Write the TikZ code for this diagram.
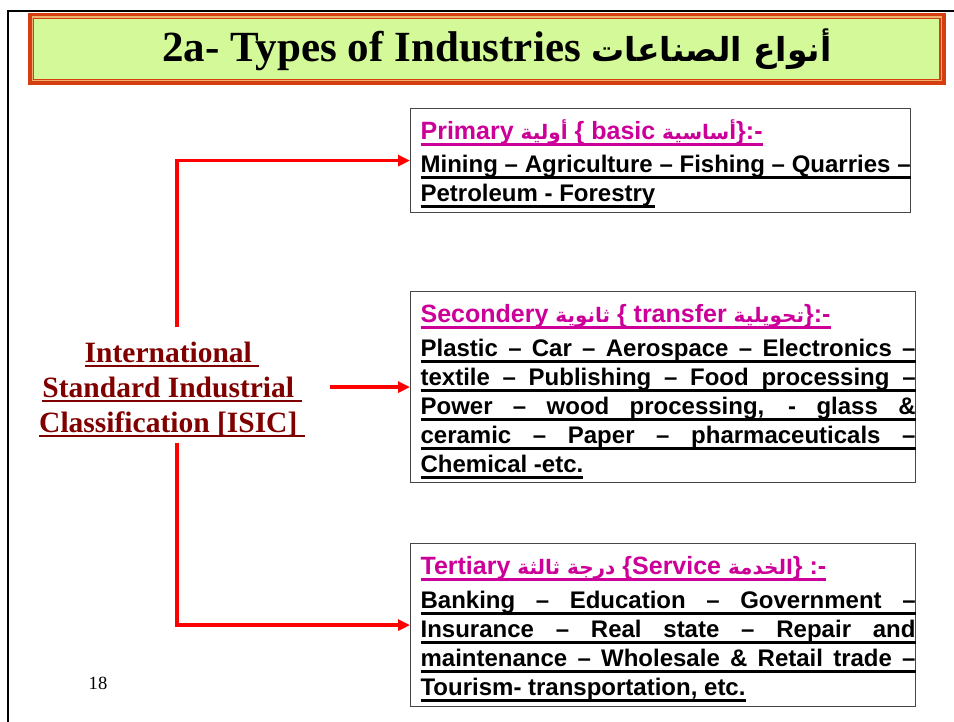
\documentclass[tikz,border=0pt]{standalone}
\usepackage{fontspec}
\setmainfont{Liberation Serif}
\newfontfamily\arial{Liberation Sans}
\newfontfamily\arabicfont[Script=Arabic]{DejaVu Sans}
\usetikzlibrary{arrows.meta}
\TeXXeTstate=1
\definecolor{mag}{RGB}{204,0,153}
\definecolor{isicred}{RGB}{128,0,0}
\definecolor{barred}{RGB}{212,62,16}
\definecolor{bartan}{RGB}{238,178,110}
\definecolor{bargreen}{RGB}{212,249,152}
\definecolor{boxgray}{RGB}{70,70,70}
\newlength\bw
\newcommand\ulx[2]{\setbox0\hbox{#2}\rlap{\color{#1}\vrule width\wd0 height -3.5pt depth 6.5pt}\box0}
\newcommand\ulisic[1]{\setbox0\hbox{#1\ }\rlap{\vrule width\wd0 height -2pt depth 4.5pt}\box0}
\newcommand\hdfont{\arial\bfseries\fontsize{25}{28.9}\selectfont}
\newcommand\bodyfont{\arial\bfseries\fontsize{24}{28.9}\selectfont}
\newcommand\arw[1]{{\arabicfont\fontsize{20}{20}\selectfont\beginR #1\endR}}
\newcommand\hdline[1]{\moveright10pt\hbox{\vrule width0pt height 25pt\relax\ulx{mag}{\color{mag}\hdfont #1}}}
\newcommand\jline[1]{\moveright10pt\hbox{\color{black}\ulx{black}{\hbox to\bw{\bodyfont #1}}}}
\newcommand\nline[1]{\moveright10pt\hbox{\color{black}\ulx{black}{\bodyfont #1}}}
\newcommand\boxsetup[1]{\hsize=#1\relax\baselineskip=28.9pt\lineskiplimit=-50pt\lineskip=0pt\parindent=0pt}
\tikzset{
  ibox/.style={draw=boxgray, line width=1.2pt, inner sep=0pt, anchor=north west},
  conn/.style={draw=red, line width=3.5pt, -{Triangle[length=12pt,width=11pt]}},
  isicnode/.style={align=center, text=isicred, inner xsep=25pt, inner ysep=0pt,
     font=\bfseries\fontsize{29.5}{35}\selectfont}
}
\begin{document}
\begin{tikzpicture}[x=1pt,y=-1pt]
\useasboundingbox (0,0) rectangle (954,722);
\fill[white] (0,0) rectangle (954,722);
% page frame
\draw[line width=2.5pt] (8,722) -- (8,11) -- (954,11);
% title bar
\fill[barred] (27.5,13) rectangle (946,85);
\fill[bartan] (31.5,16.5) rectangle (942,81.5);
\fill[barred] (33,18) rectangle (940.5,80);
\fill[bargreen] (34.2,19.2) rectangle (939.3,78.8);
\node[anchor=base, inner sep=0pt, font=\bfseries\fontsize{43}{43}\selectfont] (title) at (497,62)
  {2a- Types of Industries {\arabicfont\fontsize{33}{33}\selectfont\beginR أنواع الصناعات\endR}};
% ISIC
\node[isicnode] (isic) at (172,390) 
  {\ulisic{International}\\ \ulisic{Standard Industrial}\\ \ulisic{Classification [ISIC]}};
% boxes
\node[ibox] (prim) at (410,108) {\vbox to 104pt{\boxsetup{510pt}\setlength\bw{490pt}\kern6pt
  \hdline{Primary \arw{أولية} \{ basic \arw{أساسية}\}:-}\kern4pt
  \jline{Mining – Agriculture – Fishing – Quarries –}
  \nline{Petroleum - Forestry}\vss}};
\node[ibox] (sec) at (410,291) {\vbox to 191pt{\boxsetup{517pt}\setlength\bw{495pt}\kern6pt
  \hdline{Secondery \arw{ثانوية} \{ transfer \arw{تحويلية}\}:-}\kern5pt
  \jline{Plastic – Car – Aerospace – Electronics –}
  \jline{textile – Publishing – Food processing –}
  \jline{Power – wood processing, - glass \&}
  \jline{ceramic – Paper – pharmaceuticals –}
  \nline{Chemical -etc.}\vss}};
\node[ibox] (ter) at (410,543) {\vbox to 163pt{\boxsetup{517pt}\setlength\bw{495pt}\kern6pt
  \hdline{Tertiary \arw{درجة ثالثة} \{Service \arw{الخدمة}\} :-}\kern5pt
  \jline{Banking – Education – Government –}
  \jline{Insurance – Real state – Repair and}
  \jline{maintenance – Wholesale \& Retail trade –}
  \nline{Tourism- transportation, etc.}\vss}};
% connectors
\draw[conn] ([xshift=5pt,yshift=15pt]isic.north) |- (prim.west);
\draw[conn] (isic.east |- sec.west) -- (sec.west);
\draw[conn] ([xshift=5pt,yshift=-5.6pt]isic.south) |- (ter.west);
% page number
\node[anchor=base, inner sep=0pt, font=\fontsize{18.6}{20}\selectfont] (pg) at (98,689) {18};
\end{tikzpicture}
\end{document}
